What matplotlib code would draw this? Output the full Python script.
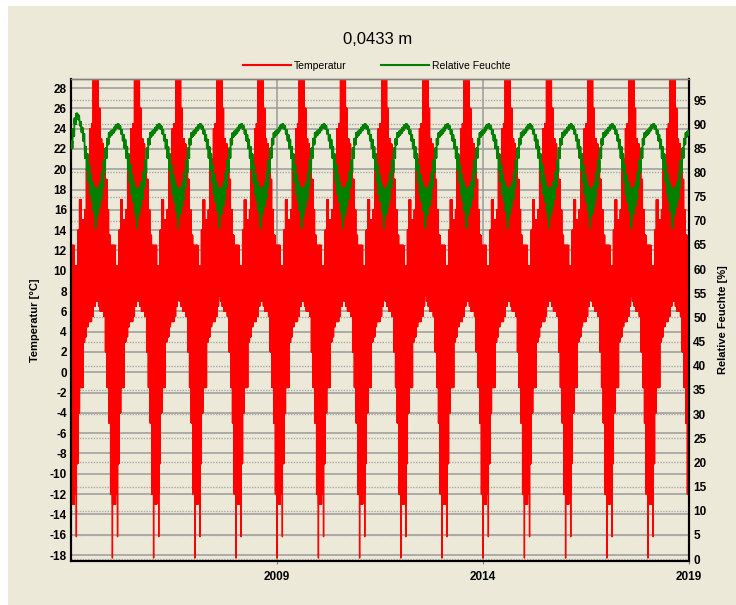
import numpy as np
import matplotlib
matplotlib.use("Agg")
import matplotlib.pyplot as plt
from matplotlib.lines import Line2D
from matplotlib.patches import Rectangle

plt.rcParams['font.family'] = ['Liberation Sans', 'DejaVu Sans']

years = list(range(2004, 2019))

# one simulated climate year, 24 half-month segments
temp_hi = [12.5, 12.5, 10.5, 10.5, 14.0, 17.0, 15.0, 15.0, 16.0, 20.0, 21.0, 24.0,
           24.5, 31.0, 31.0, 31.0, 26.0, 23.0, 22.5, 20.0, 19.0, 16.0, 13.5, 12.5]
temp_lo = [-13.0, -13.0, -12.0, -9.0, -4.0, -1.5, -1.5, 3.0, 3.5, 4.5, 5.0, 5.0,
           5.5, 6.5, 7.5, 7.0, 6.5, 6.0, 6.0, 5.5, 2.0, -1.5, -5.0, -12.0]
temp_spikes = [(0.005, -18.3), (0.13, -16.2)]

rh_hi = [88.8, 89.3, 89.8, 90.0, 89.6, 88.8, 87.8, 86.8, 85.3, 83.8, 81.5, 79.5,
         78.0, 77.0, 76.0, 76.5, 77.0, 78.0, 80.0, 82.5, 85.0, 87.0, 88.2, 88.5]
rh_lo = [88.2, 88.7, 89.2, 89.4, 89.0, 88.0, 86.6, 85.0, 83.0, 80.5, 78.0, 75.5,
         74.0, 72.0, 70.5, 71.5, 73.0, 74.5, 77.0, 80.0, 83.0, 85.8, 87.4, 87.8]
# start-up of the first year (2004)
rh_first_hi = [86.5, 89.0, 91.2, 92.2, 91.8, 90.5, 89.3, 88.0]
rh_first_lo = [85.0, 87.5, 90.0, 91.5, 91.0, 89.7, 88.3, 86.5]
rh_spikes = [(0.6, 68.5)]

temp_ticks = list(range(-18, 29, 2))
rh_ticks = list(range(0, 96, 5))
year_ticks = [2009, 2014, 2019]


def build_series(hi_list, lo_list, spikes, first_hi=None, first_lo=None, swings=6):
    xs, ys = [], []
    nseg = len(hi_list)
    for year in years:
        hi = list(hi_list)
        lo = list(lo_list)
        if year == years[0] and first_hi:
            hi[:len(first_hi)] = first_hi
            lo[:len(first_lo)] = first_lo
        pts = []
        for i in range(nseg):
            for k in range(swings):
                f = (i + k / swings) / nseg
                pts.append((f, hi[i]))
                pts.append((f + 0.5 / (swings * nseg), lo[i]))
        pts += list(spikes)
        pts.sort()
        for f, v in pts:
            xs.append(year + f)
            ys.append(v)
    return np.array(xs), np.array(ys)


t_x, t_y = build_series(temp_hi, temp_lo, temp_spikes)
r_x, r_y = build_series(rh_hi, rh_lo, rh_spikes, rh_first_hi, rh_first_lo, swings=4)

bg = '#ECE9D8'
fig = plt.figure(figsize=(7.36, 6.05), dpi=100, facecolor='white')
fig.patches.append(Rectangle((8 / 736, 0), 1, 1 - 6 / 605, transform=fig.transFigure,
                             facecolor=bg, edgecolor='none', zorder=-5))

ax = fig.add_axes([71 / 736, 1 - 561 / 605, 618 / 736, 482 / 605])
ax.set_facecolor(bg)
ax2 = ax.twinx()

ax.set_xlim(2004.0, 2019.0)
ax.set_ylim(-18.59, 28.89)
ax2.set_ylim(-0.41, 99.35)

# grid: solid for temperature ticks, dotted for humidity ticks, all behind the data
for v in temp_ticks:
    ax.axhline(v, color='#9A9A9A', lw=1.1, zorder=0)
for v in rh_ticks:
    ax.plot([0, 1], [v, v], transform=ax2.get_yaxis_transform(), color='#A8A8A8',
            lw=1.0, ls=(0, (1, 1)), zorder=0, clip_on=True)
for v in year_ticks[:-1]:
    ax.axvline(v, color='#9A9A9A', lw=1.1, zorder=0)

ax.plot(t_x, t_y, color='#FF0000', lw=1.0, zorder=2)
ax2.plot(r_x, r_y, color='#008000', lw=1.3, zorder=3)

ax.set_yticks(temp_ticks)
ax.set_yticklabels([str(v) for v in temp_ticks], fontweight='bold', fontsize=8.5)
ax2.set_yticks(rh_ticks)
ax2.set_yticklabels([str(v) for v in rh_ticks], fontweight='bold', fontsize=8.5)
ax.set_xticks(year_ticks)
ax.set_xticklabels([str(v) for v in year_ticks], fontweight='bold', fontsize=8.5)
ax.tick_params(axis='y', length=0, pad=3)
ax2.tick_params(axis='y', length=0, pad=3)
ax.tick_params(axis='x', length=2, pad=5, color='#808080')

for a in (ax, ax2):
    for side in ('left', 'right', 'bottom'):
        a.spines[side].set_color('black')
        a.spines[side].set_linewidth(1.5)
    a.spines['top'].set_color('#808080')
    a.spines['top'].set_linewidth(1.0)

ax.set_ylabel('Temperatur [°C]', fontweight='bold', fontsize=8)
ax.yaxis.set_label_coords(-0.05, 0.5)
ax2.set_ylabel('Relative Feuchte [%]', fontweight='bold', fontsize=8)
ax2.yaxis.set_label_coords(1.047, 0.5)

fig.text(378 / 736, 1 - 40 / 605, '0,0433 m', ha='center', va='center', fontsize=12)

handles = [Line2D([], [], color='#FF0000', lw=1.5), Line2D([], [], color='#008000', lw=1.5)]
fig.legend(handles, ['Temperatur', 'Relative Feuchte'], loc='center',
           bbox_to_anchor=(377 / 736, 1 - 66 / 605), ncol=2, frameon=False, fontsize=7.5,
           handlelength=4.6, columnspacing=3.3, handletextpad=0.3)

fig.savefig('out.png', dpi=100, facecolor=fig.get_facecolor())
